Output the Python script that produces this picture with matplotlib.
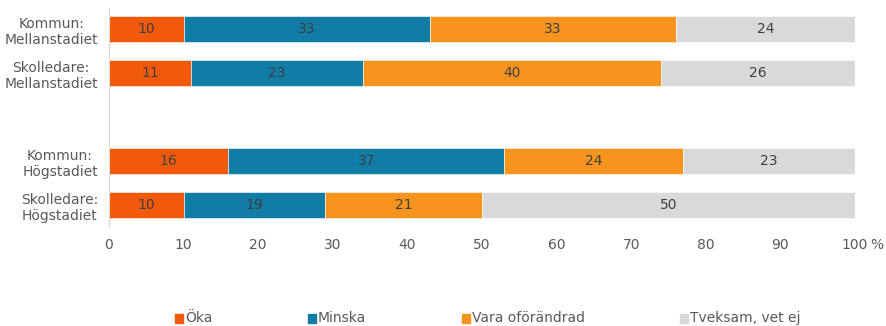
import matplotlib.pyplot as plt
from matplotlib.patches import Rectangle

# Survey answers in percent
groups = ['Kommun:\nMellanstadiet', 'Skolledare:\nMellanstadiet',
          'Kommun:\nHögstadiet', 'Skolledare:\nHögstadiet']
positions = [0, 1, 3, 4]
oka = [10, 11, 16, 10]
minska = [33, 23, 37, 19]
oforandrad = [33, 40, 24, 21]
tveksam = [24, 26, 23, 50]

series = ['Öka', 'Minska', 'Vara oförändrad', 'Tveksam, vet ej']
colors = ['#F15A0A', '#117CA5', '#F7941D', '#D9D9D9']

plt.rcParams['font.family'] = ['DejaVu Sans']

fig = plt.figure(figsize=(8.87, 3.26), dpi=100)
ax = fig.add_axes([109 / 887, 1 - 227 / 326, (855 - 109) / 887, 219 / 326])

left = [0, 0, 0, 0]
for vals, col in zip([oka, minska, oforandrad, tveksam], colors):
    ax.barh(positions, vals, left=left, height=0.58, color=col,
            edgecolor='white', linewidth=0.4)
    for p, v, l in zip(positions, vals, left):
        ax.text(l + v / 2, p, str(v), ha='center', va='center',
                fontsize=10, color='#404040')
    left = [a + b for a, b in zip(left, vals)]

ax.set_xlim(0, 100)
ax.set_ylim(4.5, -0.48)
ax.set_xticks(range(0, 101, 10))
ax.set_yticks(positions)
ax.set_yticklabels(groups, multialignment='center')
ax.tick_params(length=0, labelsize=10, colors='#595959')
ax.tick_params(axis='x', pad=8)
ax.tick_params(axis='y', pad=8)
for s in ['top', 'right', 'bottom']:
    ax.spines[s].set_visible(False)
ax.spines['left'].set_color('#D9D9D9')

# percent sign after the last tick label
ax.annotate('%', xy=(100, 0), xycoords=ax.get_xaxis_transform(),
            xytext=(15, -18), textcoords='offset pixels',
            fontsize=10, color='#595959', ha='left', va='center')

# Legend along the bottom
legend_x = [175, 308, 462, 680]
for x, lab, col in zip(legend_x, series, colors):
    fig.patches.append(Rectangle((x / 887, 1 - 323 / 326), 8 / 887, 9 / 326,
                                 transform=fig.transFigure, color=col))
    fig.text((x + 10) / 887, 1 - 318 / 326, lab, va='center', ha='left',
             fontsize=10, color='#595959',
             family=['Liberation Sans Narrow', 'DejaVu Sans'])

fig.savefig('out.png', dpi=100)
